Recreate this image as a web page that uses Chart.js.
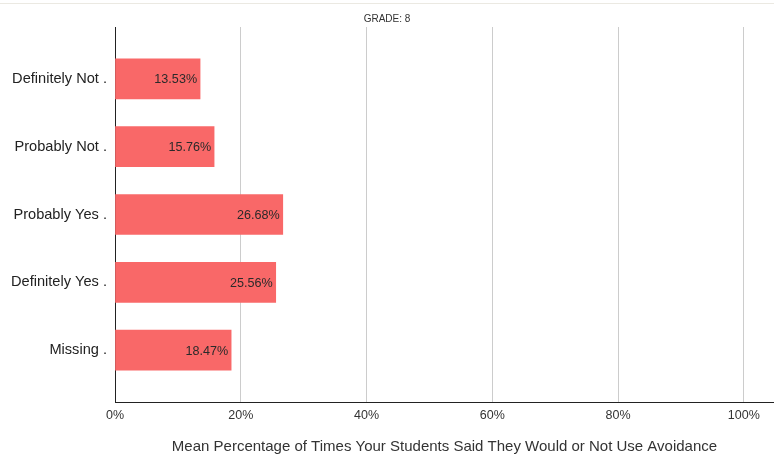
<!DOCTYPE html>
<html>
<head>
<meta charset="utf-8">
<script src="https://cdn.jsdelivr.net/npm/chart.js@4"></script>
<style>
  html, body { margin: 0; padding: 0; background: #fff; }
  #wrap { position: relative; width: 774px; height: 457px; }
  #topline { position: absolute; left: 0; top: 3px; width: 774px; height: 1px; background: #ebe9e2; }
</style>
</head>
<body>
<div id="wrap">
  <div id="topline"></div>
  <canvas id="chart" width="774" height="457"></canvas>
</div>
<script>
var categories = ['Definitely Not .', 'Probably Not .', 'Probably Yes .', 'Definitely Yes .', 'Missing .'];
var percents = [13.53, 15.76, 26.68, 25.56, 18.47];
var xTicks = [0, 20, 40, 60, 80, 100];

var fontFamily = '"Liberation Sans", Arial, sans-serif';

// writes the value just inside the end of each bar
var barValueLabels = {
  id: 'barValueLabels',
  afterDatasetsDraw: function (chart) {
    var ctx = chart.ctx;
    var meta = chart.getDatasetMeta(0);
    ctx.save();
    ctx.font = '12.6px ' + fontFamily;
    ctx.fillStyle = '#2a2a2a';
    ctx.textAlign = 'right';
    ctx.textBaseline = 'middle';
    meta.data.forEach(function (bar, i) {
      ctx.fillText(percents[i].toFixed(2) + '%', bar.x - 3, bar.y + 1);
    });
    ctx.restore();
  }
};

var points = percents.map(function (v, i) { return { x: v, y: i }; });

var ctx = document.getElementById('chart').getContext('2d');
new Chart(ctx, {
  type: 'bar',
  data: {
    datasets: [{
      data: points,
      backgroundColor: '#f96868',
      borderWidth: 0,
      barThickness: 40
    }]
  },
  options: {
    indexAxis: 'y',
    responsive: false,
    animation: false,
    layout: { padding: { left: 0, right: 0, top: 0, bottom: 0 } },
    plugins: {
      legend: { display: false },
      tooltip: { enabled: false },
      title: {
        display: true,
        text: 'GRADE: 8',
        color: '#333',
        font: { family: fontFamily, size: 10, weight: 'normal' },
        padding: { top: 13, bottom: 2 }
      }
    },
    scales: {
      x: {
        type: 'linear',
        min: 0,
        max: 104.8,
        afterBuildTicks: function (scale) {
          scale.ticks = xTicks.map(function (v) { return { value: v }; });
        },
        ticks: {
          color: '#333',
          padding: 6,
          font: { family: fontFamily, size: 12.5 },
          callback: function (v) { return v + '%'; }
        },
        grid: { color: '#cccccc', lineWidth: 1, drawTicks: false },
        border: { display: true, color: '#222', width: 1 },
        title: {
          display: true,
          text: 'Mean Percentage of Times Your Students Said They Would or Not Use Avoidance',
          color: '#333',
          font: { family: fontFamily, size: 15 },
          padding: { top: 9, bottom: 1 }
        }
      },
      y: {
        type: 'linear',
        reverse: true,
        offset: false,
        min: -0.765,
        max: 4.765,
        afterBuildTicks: function (scale) {
          scale.ticks = categories.map(function (c, i) { return { value: i }; });
        },
        afterFit: function (scale) { scale.width = 115; },
        ticks: {
          color: '#222',
          padding: 8,
          font: { family: fontFamily, size: 14.6 },
          callback: function (v) { return categories[v]; }
        },
        grid: { display: false, drawTicks: false, offset: false },
        border: { display: true, color: '#222', width: 1 }
      }
    }
  },
  plugins: [barValueLabels]
});
</script>
</body>
</html>
